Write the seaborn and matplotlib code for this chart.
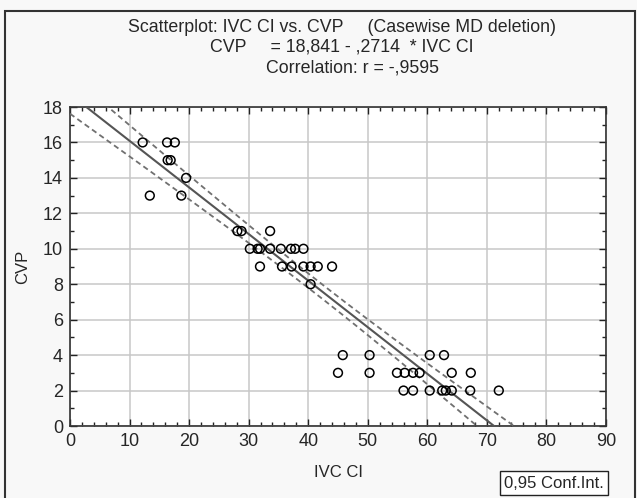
import numpy as np
import pandas as pd
import matplotlib
matplotlib.use("Agg")
import matplotlib.pyplot as plt
import seaborn as sns
from matplotlib.patches import Rectangle
from matplotlib.ticker import MultipleLocator

# IVC CI (x) and CVP (y)
ivc_ci = [12.2, 16.3, 17.6,
          16.4, 16.9,
          19.5,
          13.4, 18.7,
          28.1, 28.8, 33.6,
          30.2, 31.5, 31.9, 33.6, 35.4, 37.1, 37.8, 39.2,
          31.9, 35.6, 37.2, 39.2, 40.4, 41.6, 44.0,
          40.4,
          45.8, 50.3, 60.4, 62.8,
          45.0, 50.3, 54.9, 56.2, 57.6, 58.7, 64.1, 67.3,
          56.0, 57.6, 60.4, 62.5, 63.1, 64.1, 67.2, 72.0]
cvp = [16, 16, 16,
       15, 15,
       14,
       13, 13,
       11, 11, 11,
       10, 10, 10, 10, 10, 10, 10, 10,
       9, 9, 9, 9, 9, 9, 9,
       8,
       4, 4, 4, 4,
       3, 3, 3, 3, 3, 3, 3, 3,
       2, 2, 2, 2, 2, 2, 2, 2]

title_lines = ["Scatterplot: IVC CI vs. CVP     (Casewise MD deletion)",
               "CVP     = 18,841 - ,2714  * IVC CI",
               "Correlation: r = -,9595"]

df = pd.DataFrame({"IVC CI": ivc_ci, "CVP": cvp})

sns.set_theme(style="ticks")
plt.rcParams["font.family"] = ["Liberation Sans", "DejaVu Sans"]

fig = plt.figure(figsize=(6.37, 4.98), dpi=100, facecolor="#f8f8f8")
ax = fig.add_axes([70 / 637, 1 - 426 / 498, 536 / 637, 319 / 498])
ax.set_facecolor("white")

ax.set_xlim(0, 90)
ax.set_ylim(0, 18)
ax.grid(True, color="#c8c8c8", lw=1.1)
ax.set_axisbelow(True)

sns.scatterplot(data=df, x="IVC CI", y="CVP", ax=ax, marker="o", s=40,
                facecolor="none", edgecolor="black", linewidth=1.1, zorder=4)
sns.regplot(data=df, x="IVC CI", y="CVP", ax=ax, scatter=False, ci=None,
            truncate=False, line_kws=dict(color="#555555", lw=1.5, zorder=3))

# 95% confidence band of the mean, drawn as dashed lines
x = df["IVC CI"].to_numpy()
y = df["CVP"].to_numpy()
n = len(x)
b, a = np.polyfit(x, y, 1)
resid = y - (a + b * x)
s = np.sqrt(np.sum(resid ** 2) / (n - 2))
sxx = np.sum((x - x.mean()) ** 2)
xs = np.linspace(0, 90, 200)
fit = a + b * xs
half = 2.013 * s * np.sqrt(1 / n + (xs - x.mean()) ** 2 / sxx)
ax.plot(xs, fit + half, ls=(0, (3, 2)), color="#707070", lw=1.3, zorder=3)
ax.plot(xs, fit - half, ls=(0, (3, 2)), color="#707070", lw=1.3, zorder=3)

ax.xaxis.set_major_locator(MultipleLocator(10))
ax.xaxis.set_minor_locator(MultipleLocator(2))
ax.yaxis.set_major_locator(MultipleLocator(2))
ax.yaxis.set_minor_locator(MultipleLocator(1))
ax.tick_params(which="both", direction="in", top=True, right=True, color="#222222")
ax.tick_params(which="major", length=5, width=1, labelsize=13, pad=5)
ax.tick_params(which="minor", length=3, width=1)
for sp in ax.spines.values():
    sp.set_color("#333333")
    sp.set_linewidth(1.2)

ax.set_xlabel("IVC CI", fontsize=12, labelpad=11)
ax.set_ylabel("CVP", fontsize=12, labelpad=9)

# title block
fig.text(342 / 637, 1 - 27 / 498, title_lines[0], ha="center", va="center", fontsize=12.8)
fig.text(342 / 637, 1 - 47 / 498, title_lines[1], ha="center", va="center", fontsize=12.8)
fig.text(352 / 637, 1 - 68 / 498, title_lines[2], ha="center", va="center", fontsize=12.8)

# outer frame and legend box
fig.patches.append(Rectangle((5 / 637, -0.02), 630 / 637, 1.02 - 11 / 498,
                             transform=fig.transFigure, fill=False,
                             edgecolor="#333333", lw=1.5))
fig.text(554 / 637, 1 - 483 / 498, "0,95 Conf.Int.", ha="center", va="center",
         fontsize=12,
         bbox=dict(boxstyle="square,pad=0.25", facecolor="white", edgecolor="#222222", lw=1))

fig.savefig("out.png", dpi=100, facecolor=fig.get_facecolor())
